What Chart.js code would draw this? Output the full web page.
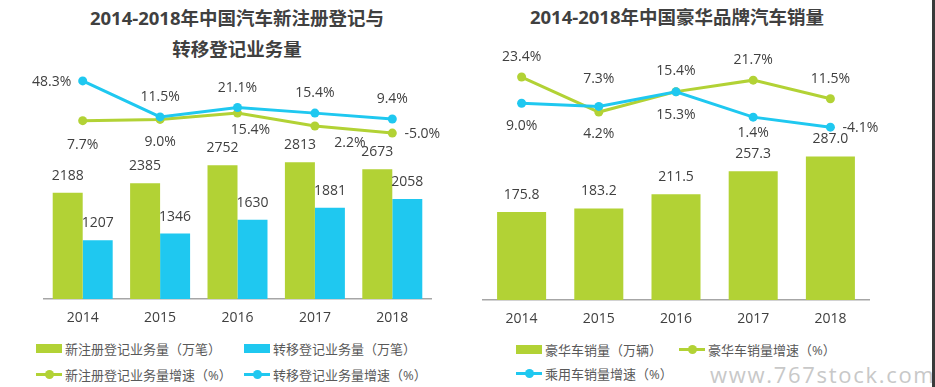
<!DOCTYPE html>
<html>
<head>
<meta charset="utf-8">
<script src="https://cdn.jsdelivr.net/npm/chart.js@4.4.1/dist/chart.umd.min.js"></script>
<style>
  body { margin: 0; width: 935px; height: 387px; overflow: hidden; position: relative; background: #fff;
         font-family: "Open Sans", "Noto Sans CJK SC", sans-serif; color: #404040; }
  .title { position: absolute; font-weight: bold; font-size: 18.5px; line-height: 31px; text-align: center;
           color: #404040; font-family: "Open Sans", "Noto Sans CJK SC", sans-serif; }
  canvas { position: absolute; }
  .item { position: absolute; display: flex; align-items: center; white-space: nowrap; font-size: 13px;
          color: #595959; font-family: "Open Sans", "Noto Sans CJK SC", sans-serif; height: 20px; }
  .sw { position: relative; width: 26px; height: 9px; margin-right: 3px; }
  .sw.line { height: 3px; }
  .sw.line i { position: absolute; left: 8.5px; top: -3px; width: 9px; height: 9px; border-radius: 50%; }
  .mark { position: absolute; left: 710px; top: 359px; font-size: 22px; letter-spacing: 1.7px; color: #c8c8c8; }
  .edge { position: absolute; left: 932px; top: 0; width: 3px; height: 387px; background: #3a3a3a; }
</style>
</head>
<body>
<div class="title" style="left:0;width:474px;top:2px">2014-2018年中国汽车新注册登记与<br>转移登记业务量</div>
<div class="title" style="left:470px;width:414px;top:1px">2014-2018年中国豪华品牌汽车销量</div>
<canvas id="left" width="470" height="329" style="left:0;top:0;width:470px;height:329px"></canvas>
<canvas id="right" width="462" height="330" style="left:470px;top:0;width:462px;height:330px"></canvas>
<div class="mark">www.767stock.com</div>
<div class="edge"></div>
<script>
const years = ['2014', '2015', '2016', '2017', '2018'];

// 左图：新注册 / 转移登记业务量（万笔）及增速（%）
const newReg = [2188, 2385, 2752, 2813, 2673];
const transferReg = [1207, 1346, 1630, 1881, 2058];
const newRegGrowth = [7.7, 9.0, 15.4, 2.2, -5.0];
const transferGrowth = [48.3, 11.5, 21.1, 15.4, 9.4];

// 右图：豪华车销量（万辆）及增速（%）
const luxurySales = [175.8, 183.2, 211.5, 257.3, 287.0];
const luxuryGrowth = [23.4, 4.2, 15.4, 21.7, 11.5];
const passengerGrowth = [9.0, 7.3, 15.3, 1.4, -4.1];

const GREEN = '#b2d235';
const BLUE = '#1fc8f0';
const FONT = '"Open Sans", "Noto Sans CJK SC", sans-serif';

// draws the value labels next to bars and points
const valueLabels = {
  id: 'valueLabels',
  afterDatasetsDraw(chart) {
    const ctx = chart.ctx;
    ctx.save();
    ctx.font = '14px ' + FONT;
    ctx.fillStyle = '#404040';
    ctx.textAlign = 'center';
    ctx.textBaseline = 'middle';
    chart.data.datasets.forEach((ds, i) => {
      const meta = chart.getDatasetMeta(i);
      meta.data.forEach((el, j) => {
        const off = ds.labelOffsets ? ds.labelOffsets[j] : [0, -17];
        ctx.fillText(ds.fmt(ds.data[j]), el.x + off[0], el.y + off[1]);
      });
    });
    ctx.restore();
  }
};

const pct = v => v.toFixed(1) + '%';

function lineSet(label, data, color, order, labelOffsets) {
  return {
    type: 'line', label, data, yAxisID: 'y1', order,
    borderColor: color, backgroundColor: color, borderWidth: 3,
    pointRadius: 4.5, pointBorderWidth: 0, pointBackgroundColor: color,
    tension: 0, fmt: pct, labelOffsets
  };
}

function barSet(label, data, color, order, fmt) {
  return { type: 'bar', label, data, backgroundColor: color, order, fmt, yAxisID: 'y' };
}

function baseOptions(padding, catPct, yMax, y1Min, y1Max) {
  return {
    responsive: false,
    animation: false,
    layout: { padding },
    plugins: { legend: { display: false }, tooltip: { enabled: false } },
    datasets: { bar: { categoryPercentage: catPct, barPercentage: 1 } },
    scales: {
      x: {
        grid: { display: false, drawTicks: false },
        border: { display: true, color: '#a6a6a6', width: 1.5 },
        ticks: { color: '#404040', font: { size: 14, family: FONT }, padding: 11 },
        afterFit: s => { s.height = 30; }
      },
      y: { display: false, min: 0, max: yMax },
      y1: { display: false, min: y1Min, max: y1Max }
    }
  };
}

const leftChart = new Chart(document.getElementById('left'), {
  data: {
    labels: years,
    datasets: [
      barSet('新注册登记业务量（万笔）', newReg, GREEN, 2, v => String(v)),
      barSet('转移登记业务量（万笔）', transferReg, BLUE, 3, v => String(v)),
      lineSet('新注册登记业务量增速（%）', newRegGrowth, GREEN, 1,
        [[0, 24], [0, 23], [13, 17], [35, 17], [30, 1]]),
      lineSet('转移登记业务量增速（%）', transferGrowth, BLUE, 0,
        [[-31, 1], [0, -20], [0, -20], [0, -20], [0, -20]])
    ]
  },
  options: baseOptions({ top: 60, left: 44, right: 39, bottom: 0 }, 0.775, 4920, -174.6, 69.7),
  plugins: [valueLabels]
});

const rightChart = new Chart(document.getElementById('right'), {
  data: {
    labels: years,
    datasets: [
      barSet('豪华车销量（万辆）', luxurySales, GREEN, 2, v => v.toFixed(1)),
      lineSet('豪华车销量增速（%）', luxuryGrowth, GREEN, 1,
        [[0, -20], [0, 22], [0, -21], [0, -20], [0, -20]]),
      lineSet('乘用车销量增速（%）', passengerGrowth, BLUE, 0,
        [[0, 23], [0, -27], [0, 23], [0, 16], [30, 1]])
    ]
  },
  options: baseOptions({ top: 60, left: 13, right: 63, bottom: 0 }, 0.635, 480, -98.9, 32.75),
  plugins: [valueLabels]
});

// html legend built from the datasets
function addLegend(chart, places) {
  chart.data.datasets.forEach((ds, i) => {
    const p = places[i];
    const item = document.createElement('div');
    item.className = 'item';
    item.style.left = p[0] + 'px';
    item.style.top = (p[1] - 10) + 'px';
    const sw = document.createElement('span');
    const color = ds.backgroundColor;
    if (ds.type === 'line') {
      sw.className = 'sw line';
      sw.style.background = color;
      const dot = document.createElement('i');
      dot.style.background = color;
      sw.appendChild(dot);
    } else {
      sw.className = 'sw';
      sw.style.background = color;
    }
    item.appendChild(sw);
    item.appendChild(document.createTextNode(ds.label));
    document.body.appendChild(item);
  });
}

addLegend(leftChart, [[36, 348], [244, 348], [36, 374], [244, 374]]);
addLegend(rightChart, [[516, 349], [679, 349], [516, 373]]);
</script>
</body>
</html>
